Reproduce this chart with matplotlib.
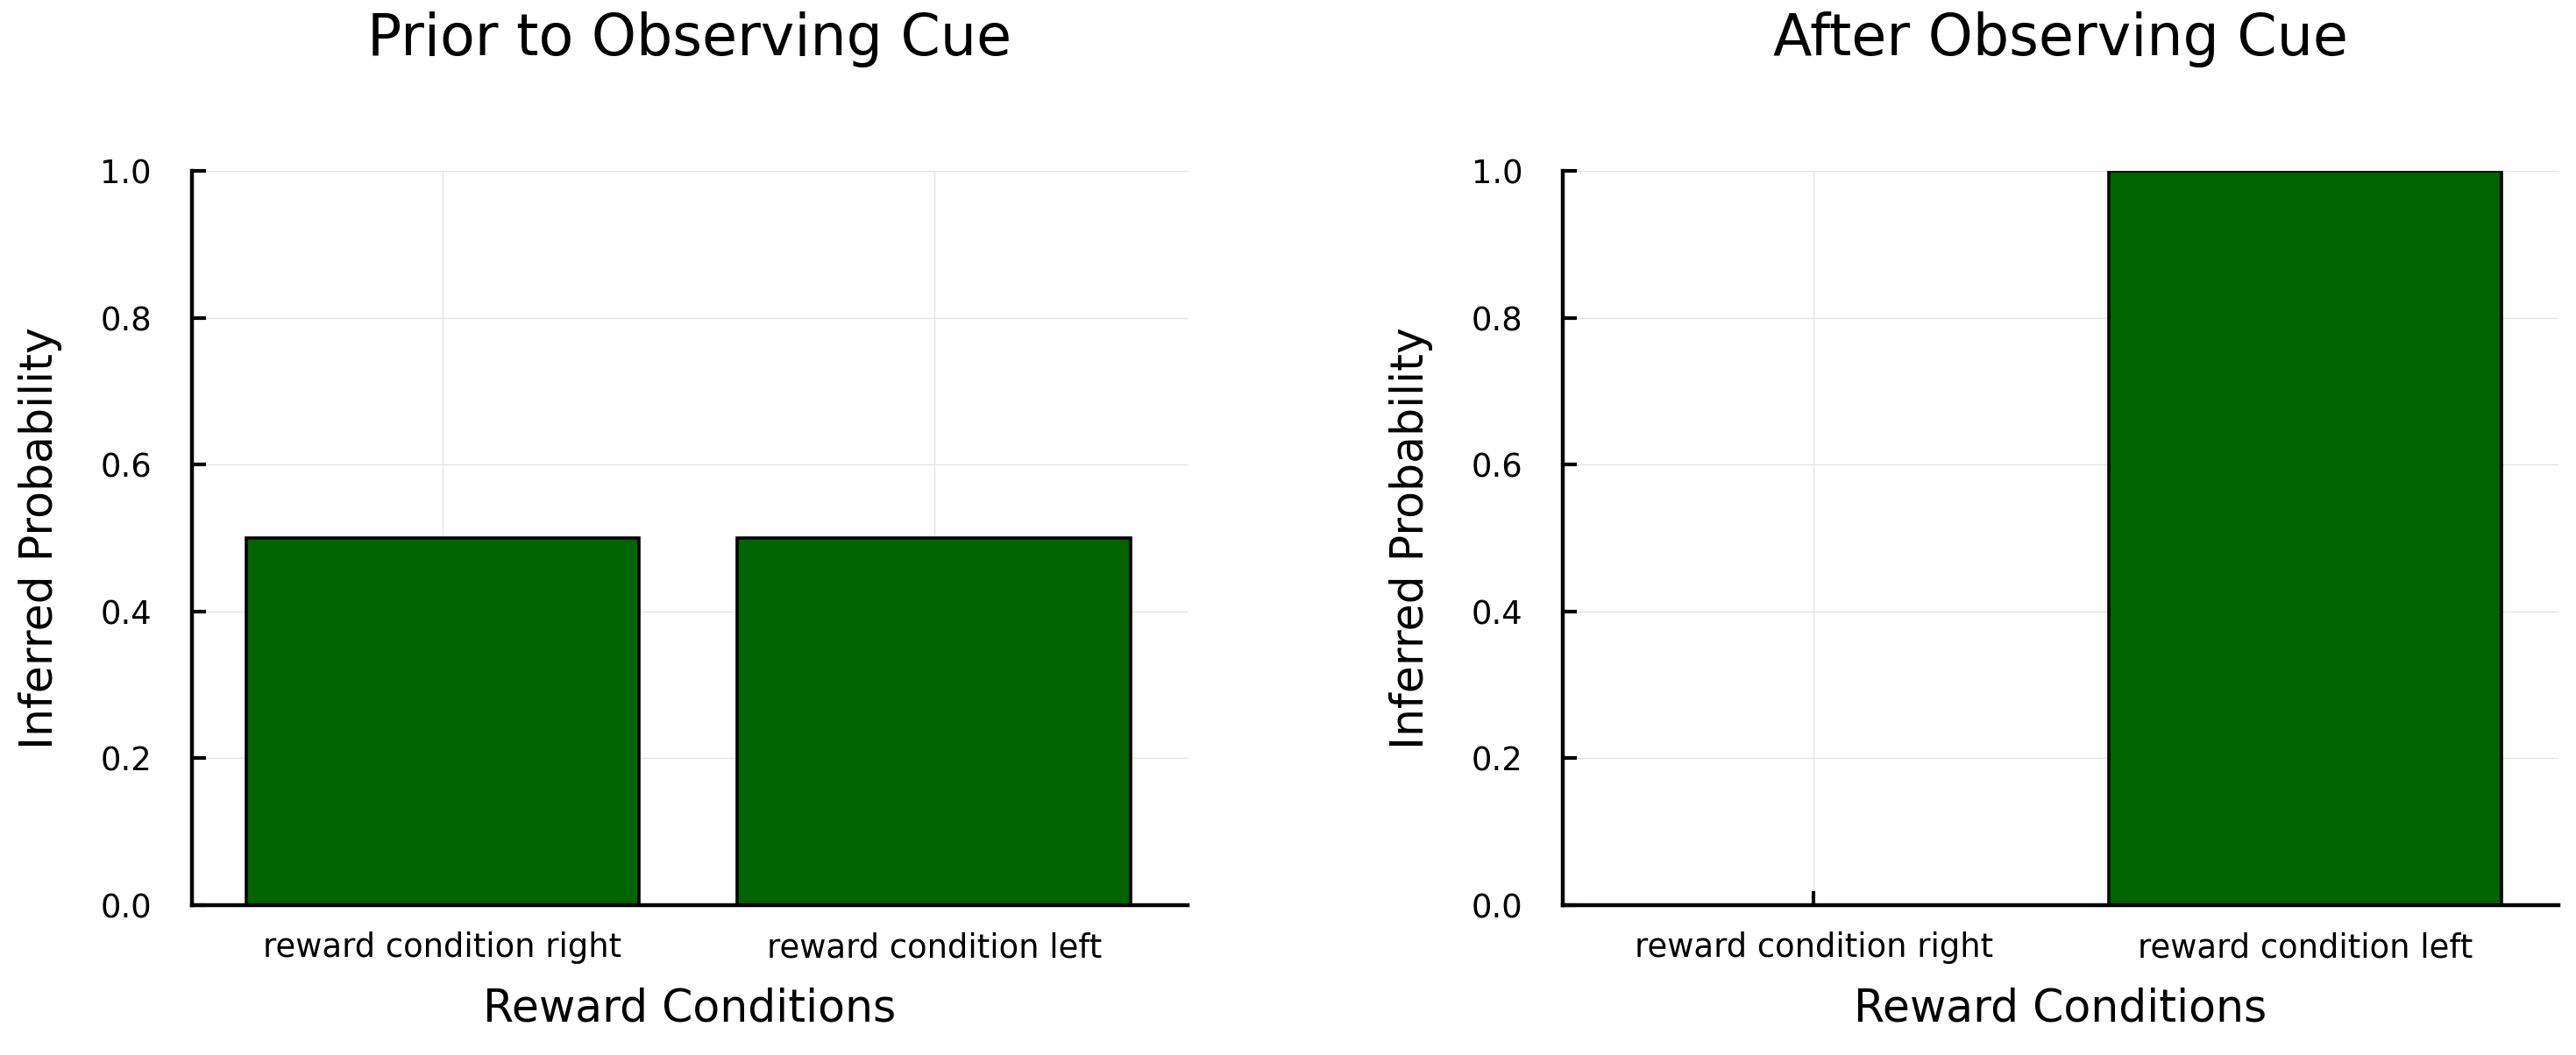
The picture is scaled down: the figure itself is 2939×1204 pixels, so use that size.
import matplotlib as mpl
mpl.use('Agg')
import matplotlib.pyplot as plt
import numpy as np

conditions = ["reward condition right", "reward condition left"]
prior_probs = [0.5, 0.5]
posterior_probs = [0.0, 1.0]

titles = ["Prior to Observing Cue", "After Observing Cue"]
y_ticks = [0.0, 0.2, 0.4, 0.6, 0.8, 1.0]

plt.rcParams['font.family'] = ['DejaVu Sans']

fig = plt.figure(figsize=(2939 / 200, 1204 / 200), dpi=200)
ax_left = fig.add_axes([0.0745, 0.142, 0.3864, 0.696])
ax_right = fig.add_axes([0.6067, 0.142, 0.3864, 0.696])

x = np.arange(1, len(conditions) + 1)

for ax, probs, title in zip([ax_left, ax_right], [prior_probs, posterior_probs], titles):
    ax.bar(x, probs, width=0.8, color='#006400', edgecolor='black', linewidth=1.3)
    ax.set_axisbelow(True)
    ax.set_xlim(0.49, 2.515)
    ax.set_ylim(0, 1)
    ax.set_xticks(x)
    ax.set_xticklabels(conditions)
    ax.set_yticks(y_ticks)
    ax.set_yticklabels(['%.1f' % t for t in y_ticks])
    ax.grid(True, color='#e4e4e4', linewidth=0.5)
    for side in ['top', 'right']:
        ax.spines[side].set_visible(False)
    for side in ['left', 'bottom']:
        ax.spines[side].set_linewidth(1.6)
    ax.tick_params(axis='both', direction='in', length=5.8, width=1.5, labelsize=13.3)
    ax.tick_params(axis='x', pad=10.8)
    ax.tick_params(axis='y', pad=16.5)
    ax.set_xlabel("Reward Conditions", fontsize=18.2, labelpad=9.4)
    ax.set_ylabel("Inferred Probability", fontsize=18.2, labelpad=15.5)
    ax.set_title(title, fontsize=23.4, pad=47.5)

fig.savefig('out.png', dpi=200)
